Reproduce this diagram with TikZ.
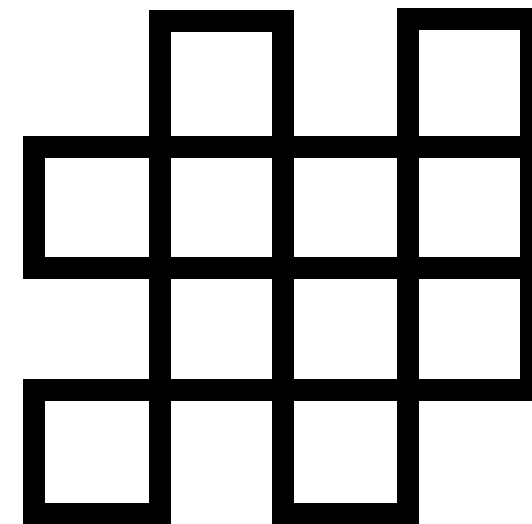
\documentclass[tikz,border=0pt]{standalone}
\begin{document}
\begin{tikzpicture}[x=1pt,y=-1pt,
  cell/.style={draw=black,line width=22pt,line join=miter}]
\useasboundingbox (0,0) rectangle (532,523);
\clip (0,0) rectangle (532,523);
% column lines x: 34,160,283,408,531 ; row lines y: 21,147,268,390,514
% row 0
\draw[cell] (160,21) rectangle (283,147);
\draw[cell] (408,19) rectangle (531,147);
% row 1
\draw[cell] (34,147) rectangle (160,268);
\draw[cell] (160,147) rectangle (283,268);
\draw[cell] (283,147) rectangle (408,268);
\draw[cell] (408,147) rectangle (531,268);
% row 2
\draw[cell] (160,268) rectangle (283,390);
\draw[cell] (283,268) rectangle (408,390);
\draw[cell] (408,268) rectangle (531,390);
% row 3
\draw[cell] (34,390) rectangle (160,514);
\draw[cell] (283,390) rectangle (408,514);
\end{tikzpicture}
\end{document}
